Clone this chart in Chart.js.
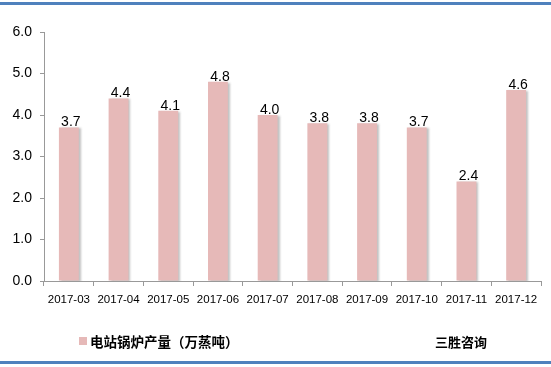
<!DOCTYPE html>
<html>
<head>
<meta charset="utf-8">
<script src="https://cdn.jsdelivr.net/npm/chart.js@4.4.0/dist/chart.umd.min.js"></script>
<style>
  body { margin: 0; background: #fff; }
  #wrap { position: relative; width: 551px; height: 367px; overflow: hidden; }
  #topLine { position: absolute; left: 0; top: 2px; width: 551px; height: 3px; background: #4F81BD; }
  #botLine { position: absolute; left: 0; top: 361px; width: 551px; height: 3px; background: #4F81BD; }
</style>
</head>
<body>
<div id="wrap">
  <canvas id="bar_Chart" width="551" height="367"></canvas>
  <div id="topLine"></div>
  <div id="botLine"></div>
</div>
<script>
// données
const months = ['2017-03', '2017-04', '2017-05', '2017-06', '2017-07', '2017-08', '2017-09', '2017-10', '2017-11', '2017-12'];
const output = [3.7, 4.4, 4.1, 4.8, 4.0, 3.8, 3.8, 3.7, 2.4, 4.6];
const seriesName = '电站锅炉产量（万蒸吨）';
const sourceText = '三胜咨询';

const barColor = '#E6B9B8';

// ombre grise à droite des barres
const barShadow = {
  id: 'barShadow',
  beforeDatasetsDraw(chart) {
    const ctx = chart.ctx;
    ctx.save();
    ctx.shadowColor = 'rgba(120,120,120,0.45)';
    ctx.shadowOffsetX = 2;
    ctx.shadowOffsetY = 1;
    ctx.shadowBlur = 2;
  },
  afterDatasetsDraw(chart) {
    chart.ctx.restore();
  }
};

// étiquettes de valeur + légende maison
const labelsAndLegend = {
  id: 'labelsAndLegend',
  afterDraw(chart) {
    const ctx = chart.ctx;
    const meta = chart.getDatasetMeta(0);
    ctx.save();
    ctx.fillStyle = '#000';
    ctx.font = '14px "Liberation Sans", Arial, sans-serif';
    ctx.textAlign = 'center';
    ctx.textBaseline = 'bottom';
    meta.data.forEach((bar, i) => {
      ctx.fillText(output[i].toFixed(1), bar.x + 2, bar.y + 2);
    });

    // légende
    ctx.fillStyle = barColor;
    ctx.fillRect(79, 337, 8, 8);
    ctx.fillStyle = '#000';
    ctx.font = 'bold 13.5px "Noto Sans CJK SC", sans-serif';
    ctx.textAlign = 'left';
    ctx.textBaseline = 'middle';
    ctx.fillText(seriesName, 90, 342);
    ctx.font = 'bold 13px "Noto Sans CJK SC", sans-serif';
    ctx.fillText(sourceText, 435, 342);
    ctx.restore();
  }
};

const ctx_bar = document.getElementById('bar_Chart').getContext('2d');
const myChartBar = new Chart(ctx_bar, {
  type: 'bar',
  data: {
    labels: months,
    datasets: [{
      label: seriesName,
      data: output,
      backgroundColor: barColor,
      borderWidth: 0,
      barPercentage: 0.4,
      categoryPercentage: 1.0
    }]
  },
  options: {
    responsive: false,
    animation: false,
    devicePixelRatio: 1,
    layout: { padding: { left: 0, right: 10, top: 32, bottom: 0 } },
    plugins: {
      legend: { display: false },
      tooltip: { enabled: false }
    },
    scales: {
      x: {
        offset: true,
        grid: { display: true, drawOnChartArea: false, drawTicks: true, tickLength: 5, color: '#999', offset: true },
        border: { display: true, color: '#999' },
        ticks: { color: '#000', padding: 7, maxRotation: 0, font: { size: 11.5, family: '"Liberation Sans", Arial, sans-serif' } },
        afterFit: scale => { scale.height = 86; }
      },
      y: {
        min: 0,
        max: 6,
        grid: { display: true, drawOnChartArea: false, drawTicks: true, tickLength: 4, color: '#999' },
        border: { display: true, color: '#999' },
        ticks: {
          stepSize: 1,
          color: '#000',
          padding: 8,
          font: { size: 14, family: '"Liberation Sans", Arial, sans-serif' },
          callback: v => v.toFixed(1)
        },
        afterFit: scale => { scale.width = 44; }
      }
    }
  },
  plugins: [barShadow, labelsAndLegend]
});
</script>
</body>
</html>
